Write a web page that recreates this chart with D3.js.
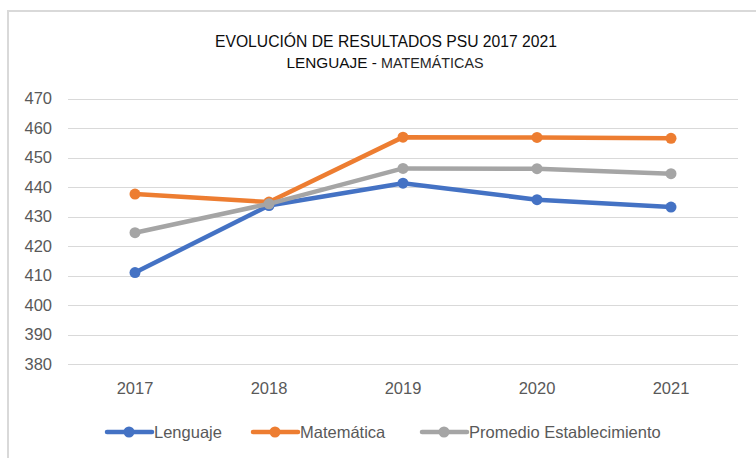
<!DOCTYPE html>
<html><head><meta charset="utf-8">
<script src="https://cdn.jsdelivr.net/npm/d3@7"></script>
<style>body{margin:0;background:#fff}svg{display:block}</style>
</head><body>
<script>
const years = ["2017","2018","2019","2020","2021"];
const lenguaje = [411, 433.7, 441.3, 435.7, 433.2];
const matematica = [437.6, 434.9, 456.9, 456.8, 456.5];
const promedio = [424.5, 434.3, 446.3, 446.2, 444.5];
const seriesNames = ["Lenguaje","Matemática","Promedio Establecimiento"];
const seriesColors = ["#4472C4","#ED7D31","#A5A5A5"];
const yTicks = [380,390,400,410,420,430,440,450,460,470];

const W = 756, H = 458;
const svg = d3.select("body").append("svg").attr("width", W).attr("height", H);
const font = "'Liberation Sans', Arial, sans-serif";

svg.append("rect").attr("x", 8).attr("y", 11).attr("width", W + 20).attr("height", H + 20)
  .attr("fill", "#fff").attr("stroke", "#d9d9d9").attr("stroke-width", 2);

const x = d3.scaleBand().domain(years).range([68, 738]);
const y = d3.scaleLinear().domain([380, 470]).range([364, 98.5]);

// gridlines
svg.append("g").selectAll("line").data(yTicks).join("line")
  .attr("x1", 68).attr("x2", 738)
  .attr("y1", d => Math.round(y(d)) + 0.5).attr("y2", d => Math.round(y(d)) + 0.5)
  .attr("stroke", "#d9d9d9").attr("stroke-width", 1);

// y axis labels
const yAxis = d3.axisLeft(y).tickValues(yTicks).tickSize(0).tickPadding(0);
const gy = svg.append("g").attr("transform", "translate(52,0)").call(yAxis);
gy.select(".domain").remove();
gy.selectAll("text").attr("fill", "#595959").style("font-family", font).style("font-size", "16.5px");

// x axis labels
const xAxis = d3.axisBottom(x).tickSize(0).tickPadding(0);
const gx = svg.append("g").attr("transform", "translate(0,382)").call(xAxis);
gx.select(".domain").remove();
gx.selectAll("text").attr("fill", "#595959").style("font-family", font).style("font-size", "16.5px");

// lines
const data = [lenguaje, matematica, promedio];
const line = d3.line().x((d, i) => x(years[i]) + x.bandwidth() / 2).y(d => y(d));
data.forEach((vals, si) => {
  const g = svg.append("g");
  g.append("path").datum(vals).attr("d", line).attr("fill", "none")
    .attr("stroke", seriesColors[si]).attr("stroke-width", 4.5).attr("stroke-linejoin", "round").attr("stroke-linecap", "round");
  g.selectAll("circle").data(vals).join("circle")
    .attr("cx", (d, i) => x(years[i]) + x.bandwidth() / 2).attr("cy", d => y(d))
    .attr("r", 5.5).attr("fill", seriesColors[si]);
});

// title
svg.append("text").attr("x", 386).attr("y", 47).attr("text-anchor", "middle")
  .style("font-family", font).style("font-size", "16px").attr("fill", "#0d0d0d")
  .attr("textLength", 342).attr("lengthAdjust", "spacingAndGlyphs")
  .text("EVOLUCIÓN DE RESULTADOS PSU 2017 2021");
const t2 = svg.append("text").attr("x", 385).attr("y", 68).attr("text-anchor", "middle")
  .style("font-family", font).attr("fill", "#0d0d0d")
  .attr("textLength", 197).attr("lengthAdjust", "spacingAndGlyphs");
t2.append("tspan").style("font-size", "15px").text("LENGUAJE - ");
t2.append("tspan").style("font-size", "14px").attr("fill", "#262626").text("MATEMÁTICAS");

// legend
const legendX = [107, 253, 422];
seriesNames.forEach((name, i) => {
  const g = svg.append("g").attr("transform", `translate(${legendX[i]},432)`);
  g.append("line").attr("x1", 0).attr("x2", 45).attr("y1", 0).attr("y2", 0)
    .attr("stroke", seriesColors[i]).attr("stroke-width", 4.5).attr("stroke-linecap", "round");
  g.append("circle").attr("cx", 22).attr("cy", 0).attr("r", 5.5).attr("fill", seriesColors[i]);
  g.append("text").attr("x", 47).attr("y", 0).attr("dy", "0.35em")
    .style("font-family", font).style("font-size", "16.5px").attr("fill", "#595959").text(name);
});
</script>
</body></html>
